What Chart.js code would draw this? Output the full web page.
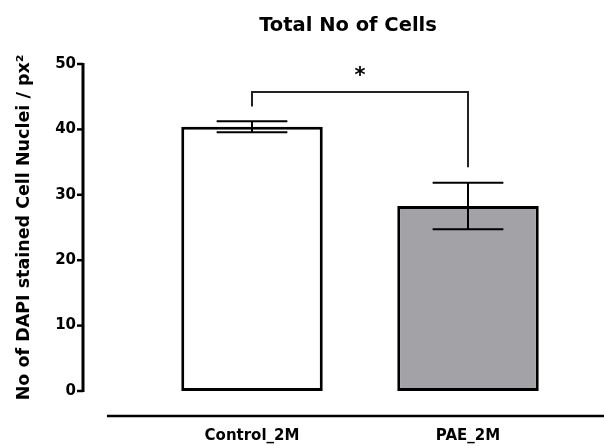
<!DOCTYPE html>
<html>
<head>
<meta charset="utf-8">
<title>Total No of Cells</title>
<script src="https://cdn.jsdelivr.net/npm/chart.js@4"></script>
<style>
  html, body { margin: 0; padding: 0; background: #fff; }
  canvas { display: block; }
</style>
</head>
<body>
<canvas id="cells" width="604" height="446"></canvas>
<script>
var groups = ['Control_2M', 'PAE_2M'];
var meanCells = [40.4, 28.3];
var semCells = [0.85, 3.55];
var barFills = ['#ffffff', '#a3a2a7'];
var yTicks = [0, 10, 20, 30, 40, 50];

// significance bracket between the two groups, in axis units
var sigLevel = 45.7;
var sigLegs = [43.5, 34.2];
var sigMark = '*';
var sigMarkLevel = 48.6;

var FONT = "'DejaVu Sans', sans-serif";

// Prism-style detached axes, error bars, bracket and title
var prismAxes = {
  id: 'prismAxes',
  afterDatasetsDraw: function (chart) {
    var ctx = chart.ctx;
    var xs = chart.scales.x, ys = chart.scales.y;
    var area = chart.chartArea;
    var meta = chart.getDatasetMeta(0);

    ctx.save();
    ctx.strokeStyle = '#000';
    ctx.lineCap = 'butt';

    // mean +/- SEM, caps half as wide as the bar
    meta.data.forEach(function (bar, i) {
      var half = bar.width / 4;
      var top = ys.getPixelForValue(meanCells[i] + semCells[i]);
      var bot = ys.getPixelForValue(meanCells[i] - semCells[i]);
      ctx.lineWidth = 2;
      ctx.beginPath();
      ctx.moveTo(bar.x, top); ctx.lineTo(bar.x, bot);
      ctx.moveTo(bar.x - half, top); ctx.lineTo(bar.x + half, top);
      ctx.moveTo(bar.x - half, bot); ctx.lineTo(bar.x + half, bot);
      ctx.stroke();
    });

    // y axis, offset to the left of the bars
    var axisX = 83;
    ctx.lineWidth = 3;
    ctx.beginPath();
    ctx.moveTo(axisX, ys.getPixelForValue(0) + 1);
    ctx.lineTo(axisX, ys.getPixelForValue(50) - 1);
    ctx.stroke();
    ctx.lineWidth = 2.5;
    yTicks.forEach(function (v) {
      var py = ys.getPixelForValue(v);
      ctx.beginPath();
      ctx.moveTo(axisX - 6, py);
      ctx.lineTo(axisX, py);
      ctx.stroke();
    });

    // x axis, dropped below the bars
    var axisY = area.bottom + 25;
    ctx.lineWidth = 2.5;
    ctx.beginPath();
    ctx.moveTo(107, axisY);
    ctx.lineTo(chart.width, axisY);
    ctx.stroke();

    // significance bracket
    var x0 = xs.getPixelForValue(0), x1 = xs.getPixelForValue(1);
    var by = ys.getPixelForValue(sigLevel);
    ctx.lineWidth = 2;
    ctx.strokeStyle = '#222';
    ctx.beginPath();
    ctx.moveTo(x0, ys.getPixelForValue(sigLegs[0]));
    ctx.lineTo(x0, by);
    ctx.lineTo(x1, by);
    ctx.lineTo(x1, ys.getPixelForValue(sigLegs[1]));
    ctx.stroke();

    ctx.fillStyle = '#000';
    ctx.textAlign = 'center';
    ctx.textBaseline = 'middle';
    ctx.font = 'bold 21px ' + FONT;
    ctx.fillText(sigMark, (x0 + x1) / 2, ys.getPixelForValue(sigMarkLevel) + 3);

    ctx.font = 'bold 19.5px ' + FONT;
    ctx.fillText('Total No of Cells', 348, 26);
    ctx.restore();
  }
};

new Chart(document.getElementById('cells'), {
  type: 'bar',
  data: {
    labels: groups,
    datasets: [{
      data: meanCells,
      backgroundColor: barFills,
      borderColor: '#000',
      borderWidth: 3,
      borderSkipped: false,
      categoryPercentage: 1,
      barPercentage: 0.655
    }]
  },
  options: {
    responsive: false,
    animation: false,
    layout: { padding: { top: 64, right: 28, bottom: 0, left: 0 } },
    plugins: {
      legend: { display: false },
      tooltip: { enabled: false }
    },
    scales: {
      x: {
        grid: { display: false, drawTicks: false },
        border: { display: false },
        ticks: { color: '#000', padding: 36, font: { family: FONT, size: 15, weight: 'bold' } },
        afterFit: function (s) { s.height = 55; }
      },
      y: {
        min: 0,
        max: 50,
        grid: { display: false, drawTicks: false },
        border: { display: false },
        ticks: { stepSize: 10, color: '#000', padding: 68, font: { family: FONT, size: 15, weight: 'bold' } },
        title: {
          display: true,
          text: 'No of DAPI stained Cell Nuclei / px\u00b2',
          color: '#000',
          padding: { top: 14, bottom: 0 },
          font: { family: FONT, size: 17.5, weight: 'bold' }
        },
        afterFit: function (s) {
          // labels sit far left of the plot; keep that gap out of the vertical padding
          s.width = 144;
          s.paddingTop = 0;
          s.paddingBottom = 0;
        }
      }
    }
  },
  plugins: [prismAxes]
});
</script>
</body>
</html>
